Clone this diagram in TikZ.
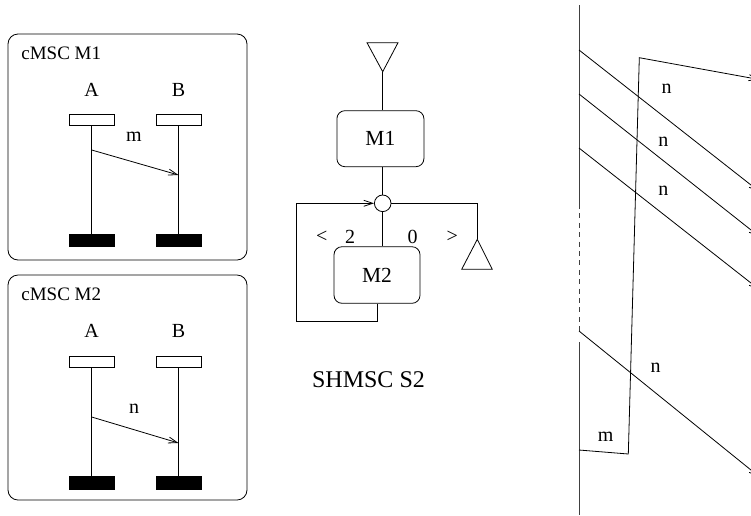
\documentclass[tikz,border=0pt]{standalone}
\usepackage{fontspec}
\setmainfont{Liberation Serif}
\usetikzlibrary{arrows.meta}
\begin{document}
\begin{tikzpicture}[x=1pt,y=-1pt,line width=0.8pt,
  frame/.style={draw,rounded corners=10pt,inner sep=0pt},
  headbox/.style={draw,fill=white,minimum width=45pt,minimum height=11pt,inner sep=0pt},
  footbox/.style={draw,fill=black,minimum width=45pt,minimum height=12.5pt,inner sep=0pt},
  lbl/.style={font=\fontsize{20}{24}\selectfont,inner sep=0pt},
  ttl/.style={font=\fontsize{19}{23}\selectfont,inner sep=0pt,anchor=base west},
  statebox/.style={draw,rounded corners=8pt,inner sep=0pt,font=\fontsize{21.5}{25}\selectfont},
  msg/.style={-{Straight Barb[length=9pt,width=6pt]}},
  life/.style={line width=1pt,draw=black!75}
]
\useasboundingbox (0,0) rectangle (751,515);
\clip (0,0) rectangle (751,515);

% ---------- cMSC M1 ----------
\node[frame,minimum width=239pt,minimum height=226pt] (F1) at (127.5,147) {};
\node[ttl] (T1) at (21,59) {cMSC M1};
\node[lbl] (A1) at (91.7,90) {A};
\node[lbl] (B1) at (178.5,90) {B};
\node[headbox] (hA1) at (91.7,119.5) {};
\node[headbox] (hB1) at (178.5,119.5) {};
\node[footbox] (fA1) at (91.7,240.5) {};
\node[footbox] (fB1) at (178.5,240.5) {};
\draw (hA1.south) -- (fA1.north);
\draw (hB1.south) -- (fB1.north);
\coordinate (mA1) at (91.7,150);
\coordinate (mB1) at (178.5,175);
\draw[msg] (mA1) -- (mB1);
\node[lbl] (lm1) at (134,137) {m};

% ---------- cMSC M2 ----------
\node[frame,minimum width=239pt,minimum height=225pt] (F2) at (127.5,387.5) {};
\node[ttl] (T2) at (21,300) {cMSC M2};
\node[lbl] (A2) at (91.7,331) {A};
\node[lbl] (B2) at (178.5,331) {B};
\node[headbox] (hA2) at (91.7,361.5) {};
\node[headbox] (hB2) at (178.5,361.5) {};
\node[footbox] (fA2) at (91.7,483) {};
\node[footbox] (fB2) at (178.5,483) {};
\draw (hA2.south) -- (fA2.north);
\draw (hB2.south) -- (fB2.north);
\coordinate (mA2) at (91.7,417);
\coordinate (mB2) at (178.5,443);
\draw[msg] (mA2) -- (mB2);
\node[lbl] (ln2) at (134,409) {n};

% ---------- SHMSC S2 ----------
\coordinate (t1a) at (367,42.7);
\coordinate (t1b) at (398,42.7);
\coordinate (t1) at (382.7,71.7);
\draw (t1a) -- (t1b) -- (t1) -- cycle;
\node[statebox,minimum width=87pt,minimum height=56pt] (M1) at (380.4,138.7) {M1};
\draw (t1) -- (t1 |- M1.north);
\node[draw,circle,minimum size=16.6pt,inner sep=0pt] (C) at (382.7,203.3) {};
\draw (C.north) -- (C.north |- M1.south);
\node[statebox,minimum width=86pt,minimum height=56.6pt] (M2) at (377,275) {M2};
\draw (C.south) -- (C.south |- M2.north);
\coordinate (lb) at (296,321.7);
\draw[msg] (M2.south) |- (lb) |- (C.west);
\coordinate (t2) at (477.3,239.3);
\coordinate (t2a) at (461.7,269.3);
\coordinate (t2b) at (492.3,269.3);
\draw (C.east) -| (t2);
\draw (t2) -- (t2a) -- (t2b) -- cycle;
\node[lbl] (lt) at (321.7,237) {<};
\node[lbl] (l2) at (350,237) {2};
\node[lbl] (l0) at (412.7,237) {0};
\node[lbl] (gt) at (452.3,237) {>};
\node[inner sep=0pt,font=\fontsize{24}{28}\selectfont] (S2) at (368.5,380) {SHMSC S2};

% ---------- right: execution ----------
\coordinate (Ltop) at (579,5);
\coordinate (Ld1) at (579,204);
\coordinate (Ld2) at (579,331);
\coordinate (Ls) at (579,342);
\coordinate (Lbot) at (579,515);
\draw[life] (Ltop) -- (Ld1);
\draw[life,dash pattern=on 5pt off 4.4pt] (Ld1) -- (Ld2);
\draw[life] (Ls) -- (Lbot);

\coordinate (s1) at (579,50);   \coordinate (e1) at (759,191.3);
\coordinate (s2) at (579,94);   \coordinate (e2) at (759,236.3);
\coordinate (s3) at (579,148);  \coordinate (e3) at (759,289.3);
\coordinate (s4) at (579,331);  \coordinate (e4) at (759,476.5);
\draw[msg] (s1) -- (e1);
\draw[msg] (s2) -- (e2);
\draw[msg] (s3) -- (e3);
\draw[msg] (s4) -- (e4);
\coordinate (ms) at (579,450);
\coordinate (m1) at (628.3,454);
\coordinate (m2) at (639.3,57.7);
\coordinate (me) at (759,79.5);
\draw[msg] (ms) -- (m1) -- (m2) -- (me);
\node[lbl] (rn1) at (666.7,89) {n};
\node[lbl] (rn2) at (663.3,142) {n};
\node[lbl] (rn3) at (663.3,191) {n};
\node[lbl] (rn4) at (655.7,368) {n};
\node[lbl] (rm) at (605.7,437) {m};
\end{tikzpicture}
\end{document}
